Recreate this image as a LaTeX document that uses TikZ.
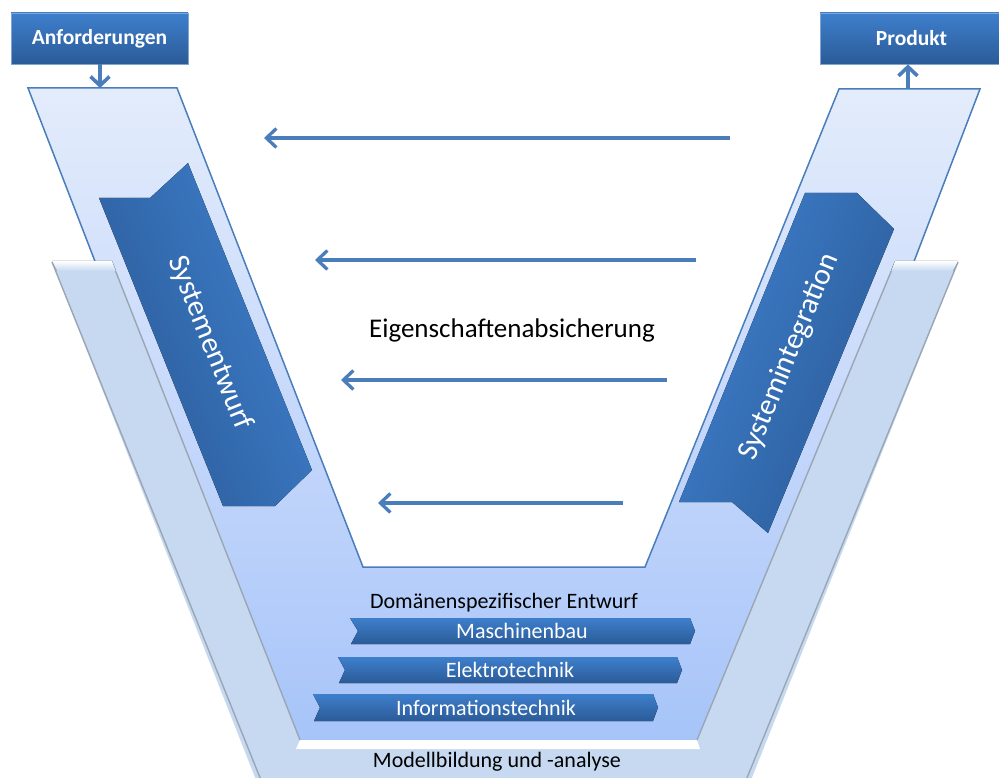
\documentclass[tikz,border=0pt]{standalone}
\usepackage{fontspec}
\setmainfont{Carlito}
\usetikzlibrary{arrows.meta,positioning}

\definecolor{vblue}{HTML}{4A7EBB}
\definecolor{darkband}{HTML}{2B5B98}
\definecolor{lightband}{HTML}{3E7FCC}
\definecolor{plate}{HTML}{C6D9F0}
\definecolor{platerim}{HTML}{9AA6B4}
\definecolor{vtop}{HTML}{E3ECFB}
\definecolor{vmid}{HTML}{C6D8FB}
\definecolor{vbottom}{HTML}{A6C4F9}

\tikzset{
  headbox/.style={draw=vblue!70!white, line width=0.8pt, top color=lightband,
    bottom color=darkband, text=white, minimum height=51pt, inner sep=0pt,
    font=\fontsize{21.5}{25}\selectfont\bfseries},
  flow/.style={vblue, line width=3.6pt, -{Straight Barb[length=9pt,width=19pt]}},
  feedback/.style={vblue, line width=3.3pt, -{Straight Barb[length=10pt,width=19pt]}},
  bandtext/.style={text=white, font=\fontsize{30}{36}\selectfont, inner sep=0pt},
  bartext/.style={text=white, font=\fontsize{22}{26}\selectfont, inner sep=0pt},
  plaintext/.style={text=black, font=\fontsize{22}{26}\selectfont, inner sep=0pt},
  barfill/.style={top color=lightband, bottom color=darkband}
}

\begin{document}
\begin{tikzpicture}[x=1pt,y=-1pt]
\useasboundingbox (0,0) rectangle (999,778);

% the V
\fill[top color=vtop, bottom color=vbottom, middle color=vmid]
  (28,88) -- (177,88) -- (363,567) -- (645,567) -- (839,89) -- (980,89)
  -- (729,745) -- (282,745) -- cycle;
\draw[vblue, line width=1.5pt]
  (28,88) -- (177,88) -- (363,567) -- (645,567) -- (839,89) -- (980,89)
  -- (729,745) -- (282,745) -- cycle;

% back plate
\fill[plate] (52,262) -- (112,262) -- (300,740) -- (697,740) -- (895,262)
  -- (958,262) -- (747,790) -- (260,790) -- cycle;
\draw[platerim, line width=1.4pt] (52,262) -- (265,790);
\draw[platerim, line width=1.4pt] (112,262) -- (300,740);
\draw[platerim, line width=1.4pt] (895,262) -- (697,740);
\draw[platerim, line width=1.4pt] (958,262) -- (742,790);
\fill[top color=white, bottom color=plate] (52,261) -- (112,261) -- (116,271) -- (57,271) -- cycle;
\fill[top color=white, bottom color=plate] (895,261) -- (958,261) -- (953,271) -- (891,271) -- cycle;
\fill[white] (300,740) -- (697,740) -- (700,749) -- (296,749) -- cycle;

% bands
\fill[left color=darkband, right color=lightband, shading angle=111.8]
  (99,198) -- (150,198) -- (188,163) -- (312,470) -- (275,506) -- (223,506) -- cycle;
\fill[left color=lightband, right color=darkband, shading angle=67.7]
  (805,193) -- (857,193) -- (894,229) -- (768,533) -- (732,502) -- (679,502) -- cycle;
\node[bandtext, rotate=-68.2] (entwurf) at (210,343) {Systementwurf};
\node[bandtext, rotate=67.7] (integ) at (789,357) {Systemintegration};

% domains
\fill[barfill] (350,618) -- (690,618) -- (695,631) -- (690,644) -- (351,644) -- (358,631) -- cycle;
\fill[barfill] (338,657) -- (677,657) -- (682,670) -- (677,683) -- (339,683) -- (345,670) -- cycle;
\fill[barfill] (313,694) -- (653,694) -- (658,707.5) -- (653,721) -- (314,721) -- (320,707.5) -- cycle;
\node[bartext] (masch) at (522,631) {Maschinenbau};
\node[bartext] (elektro) at (510,670) {Elektrotechnik};
\node[bartext] (info) at (486,707.5) {Informationstechnik};

\node[plaintext] (dom) at (504,603) {Domänenspezifischer Entwurf};
\node[plaintext] (modell) at (497,762) {Modellbildung und -analyse};
\node[plaintext, font=\fontsize{27}{32}\selectfont] (eig) at (512,330) {Eigenschaftenabsicherung};

% input and output
\node[headbox, minimum width=177pt] (anf) at (99.5,38.5) {Anforderungen};
\node[headbox, minimum width=183pt] (prod) at (911.5,38.5) {Produkt};
\coordinate (vin) at (100,88);
\coordinate (vout) at (908,89);
\draw[flow] (anf.south -| vin) -- (vin);
\draw[flow] (vout) -- (prod.south -| vout);

% checks
\coordinate (s1) at (730,138);
\coordinate (e1) at (264,138);
\coordinate (s2) at (696,260);
\coordinate (e2) at (315,260);
\coordinate (s3) at (667,380);
\coordinate (e3) at (341,380);
\coordinate (s4) at (623,503);
\coordinate (e4) at (378,503);
\draw[feedback] (s1) -- (e1);
\draw[feedback] (s2) -- (e2);
\draw[feedback] (s3) -- (e3);
\draw[feedback] (s4) -- (e4);
\end{tikzpicture}
\end{document}
